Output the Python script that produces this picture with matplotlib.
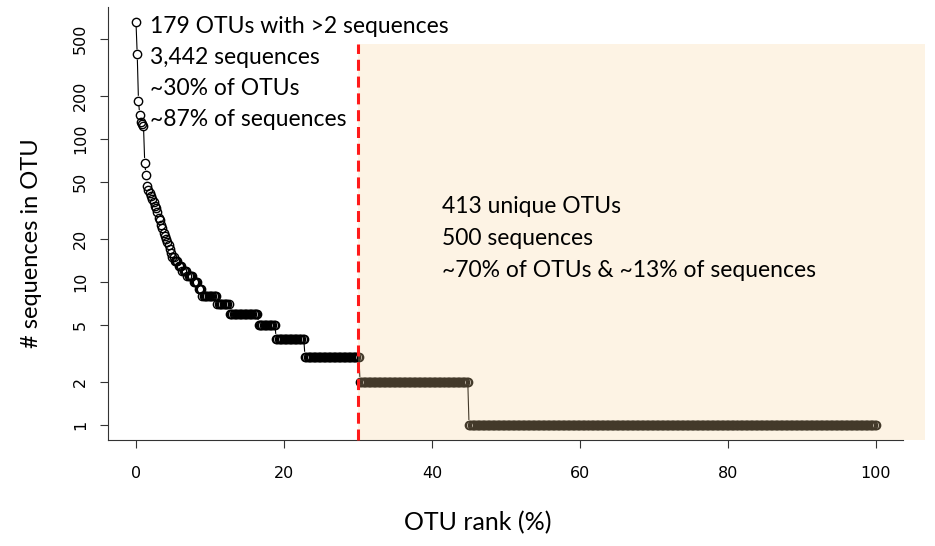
import numpy as np
import matplotlib
matplotlib.use("Agg")
import matplotlib.pyplot as plt
from matplotlib.patches import Rectangle
from matplotlib.collections import LineCollection

# sequences per OTU for the most abundant OTUs (rank order)
top_counts = [660, 390, 185, 147, 132, 128, 124, 68, 56, 47, 44, 42, 40, 38, 36,
              34, 33, 31, 28, 27, 25, 24, 22, 21, 20, 19, 18, 17, 16, 15, 15, 14,
              14, 14, 13, 13, 13, 12, 12, 12, 12, 11, 11, 11, 11, 11, 10, 10, 10,
              10, 9, 9, 9]
# plateaus of equal abundance that follow
plateau_values = [8, 7, 6, 5, 4, 3, 2, 1]
plateau_sizes = [12, 10, 23, 14, 23, 44, 87, 326]

y_ticks = [1, 2, 5, 10, 20, 50, 100, 200, 500]
x_ticks = [0, 20, 40, 60, 80, 100]
cutoff = 30

left_notes = ["179 OTUs with >2 sequences", "3,442 sequences",
              "~30% of OTUs", "~87% of sequences"]
right_notes = ["413 unique OTUs", "500 sequences",
               "~70% of OTUs & ~13% of sequences"]

counts = np.array(top_counts + [v for v, n in zip(plateau_values, plateau_sizes) for _ in range(n)])
rank = np.arange(len(counts)) / (len(counts) - 1) * 100

W, H = 935, 546
fig = plt.figure(figsize=(W / 100, H / 100), dpi=100)
ax = fig.add_axes([108 / W, 1 - 440 / H, 795 / W, 433 / H])
ax.set_yscale("log")
ax.set_xlim(-3.78, 103.65)
ax.set_ylim(0.785, 838)

# R style type="b": connecting lines with a gap around each point
pts = ax.transData.transform(np.column_stack([rank, counts]))
gap = 5
segs = []
for p, q in zip(pts[:-1], pts[1:]):
    d = np.hypot(*(q - p))
    if d > 2 * gap + 1:
        u = (q - p) / d
        segs.append([p + gap * u, q - gap * u])
inv = ax.transData.inverted()
segs = [inv.transform(np.array(s)) for s in segs]
ax.add_collection(LineCollection(segs, colors="black", linewidths=0.8, zorder=2))

ax.plot(rank, counts, linestyle="none", marker="o", markersize=6,
        markerfacecolor="none", markeredgecolor="black", markeredgewidth=1.0, zorder=3)

# shaded area of singletons/doubletons, drawn over the points
ax.add_patch(Rectangle((cutoff, 0.785), 106.6 - cutoff, 460 - 0.785,
                       facecolor=(250 / 255, 214 / 255, 158 / 255), alpha=0.27,
                       edgecolor="none", clip_on=False, zorder=4))
ax.plot([cutoff, cutoff], [0.785, 460], color="#ff1a1a", linewidth=2.2,
        dashes=(3.6, 1.9), zorder=5, clip_on=False)

for s in ["top", "right"]:
    ax.spines[s].set_visible(False)
for s in ["left", "bottom"]:
    ax.spines[s].set_linewidth(0.8)
    ax.spines[s].set_color("#333333")

tick_font = ["Liberation Sans Narrow", "DejaVu Sans"]
ax.set_yticks(y_ticks)
ax.set_yticklabels([str(t) for t in y_ticks], rotation=90, va="center",
                   family=tick_font, fontsize=11.5)
ax.yaxis.set_minor_locator(matplotlib.ticker.NullLocator())
ax.set_xticks(x_ticks)
ax.set_xticklabels([str(t) for t in x_ticks], family=tick_font, fontsize=11.5)
ax.tick_params(axis="both", length=5.5, width=0.8, color="#333333")
ax.tick_params(axis="y", pad=9)
ax.tick_params(axis="x", pad=13)

label_font = ["Lato", "DejaVu Sans"]
fig.text(31 / W, 1 - 243 / H, "# sequences in OTU", rotation=90, ha="center",
         va="center", fontsize=17, family=label_font)
fig.text(478 / W, 1 - 523 / H, "OTU rank (%)", ha="center", va="center",
         fontsize=18, family=label_font)

for i, s in enumerate(left_notes):
    fig.text(150 / W, 1 - (33 + 31 * i) / H, s, ha="left", va="baseline",
             fontsize=16.5, family=label_font)
for i, s in enumerate(right_notes):
    fig.text(442 / W, 1 - (213 + 32 * i) / H, s, ha="left", va="baseline",
             fontsize=16.5, family=label_font)

fig.savefig("out.png", dpi=100)
